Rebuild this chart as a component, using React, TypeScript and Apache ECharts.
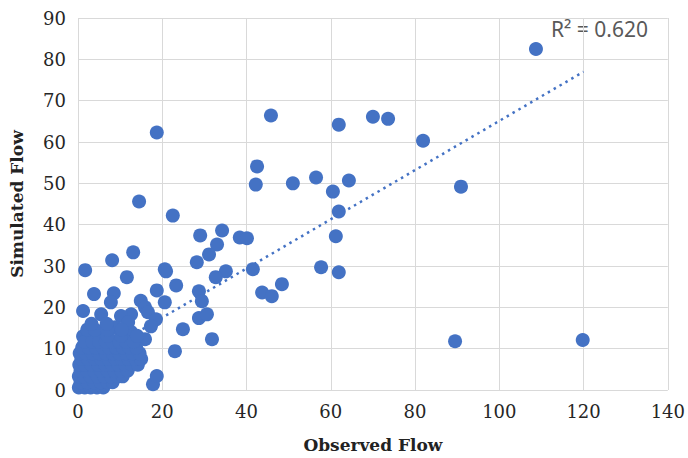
import React, { useEffect, useRef } from "react";
import * as echarts from "echarts";

// Observed (x) and simulated (y) flows
const scatteredObs = [108.7, 119.8, 89.5, 90.9, 81.9, 70.0, 73.6, 45.8, 61.9, 64.3, 60.5, 61.9, 61.2, 57.7, 61.9, 56.5, 51.0, 42.5, 42.2, 41.5, 43.7, 46.0, 48.4, 38.4, 40.1, 34.2, 33.0, 31.1, 29.0, 28.2, 35.1, 32.7, 28.7, 29.4, 28.7, 30.6, 31.8, 24.9, 23.0, 18.7, 14.5, 22.5, 13.1, 8.1, 1.7, 11.6, 3.8, 8.5, 20.9, 20.6, 18.7, 23.3, 20.6, 14.9, 15.9, 17.8, 18.7, 1.2];
const scatteredSim = [82.5, 12.1, 11.8, 49.2, 60.3, 66.1, 65.6, 66.4, 64.2, 50.7, 48.0, 43.2, 37.2, 29.7, 28.5, 51.4, 50.0, 54.1, 49.7, 29.2, 23.6, 22.7, 25.6, 36.9, 36.7, 38.6, 35.2, 32.8, 37.4, 30.9, 28.7, 27.3, 23.9, 21.5, 17.4, 18.3, 12.3, 14.7, 9.4, 62.3, 45.6, 42.2, 33.3, 31.4, 29.0, 27.3, 23.2, 23.4, 28.7, 29.2, 24.1, 25.3, 21.2, 21.6, 20.0, 1.4, 3.4, 19.1];

const clusterTopObs = [5.5, 7.8, 12.6, 10.2, 16.6, 18.5, 17.3, 15.9, 12.6, 1.2, 3.6, 5.5, 8.8, 11.9];
const clusterTopSim = [18.3, 21.2, 18.3, 17.9, 18.8, 17.1, 15.4, 12.3, 14.0, 13.0, 12.8, 14.0, 15.2, 16.4];

// dense cluster near the origin, one row of readings per band of simulated flow
const clusterRowsSim = [0.6, 1.9, 3.3, 4.7, 6.1, 7.5, 8.9, 10.3, 11.7, 13.1, 14.6, 16.0];
const clusterRowsObs = [
  [0.2, 1.6, 3.0, 4.5, 6.0],
  [0.6, 2.2, 3.8, 5.4, 7.0, 8.2],
  [0.2, 1.4, 3.0, 4.6, 6.2, 7.8, 9.4, 10.6],
  [0.6, 2.2, 3.8, 5.4, 7.0, 8.6, 10.2, 11.8],
  [0.3, 1.6, 3.2, 4.8, 6.4, 8.0, 9.6, 11.2, 12.8, 14.2],
  [0.8, 2.4, 4.0, 5.6, 7.2, 8.8, 10.4, 12.0, 13.6, 15.0],
  [0.4, 1.8, 3.4, 5.0, 6.6, 8.2, 9.8, 11.4, 13.0, 14.6],
  [1.0, 2.6, 4.2, 5.8, 7.4, 9.0, 10.6, 12.2, 13.8],
  [1.6, 3.4, 5.0, 6.6, 8.2, 9.8, 11.4, 13.2],
  [7.0, 10.2, 14.0],
  [2.2, 4.0, 7.0, 10.4],
  [3.2, 6.8],
];

// linear trendline end points
const trendObs = [0, 120];
const trendSim = [5.6, 77.0];

const xTicks = [0, 20, 40, 60, 80, 100, 120, 140];
const yTicks = [0, 10, 20, 30, 40, 50, 60, 70, 80, 90];
const r2Label = "R\u00B2 = 0.620";

export default function App() {
  const ref = useRef<HTMLDivElement>(null);
  useEffect(() => {
    if (!ref.current) return;
    const chart = echarts.init(ref.current, null, { renderer: "svg" });
    const points: number[][] = [];
    scatteredObs.forEach((x, i) => points.push([x, scatteredSim[i]]));
    clusterTopObs.forEach((x, i) => points.push([x, clusterTopSim[i]]));
    clusterRowsObs.forEach((row, r) => row.forEach((x) => points.push([x, clusterRowsSim[r]])));
    const trend = trendObs.map((x, i) => [x, trendSim[i]]);
    const axisFont = { fontFamily: "DejaVu Serif", fontSize: 18, color: "#262626" };
    chart.setOption({
      animation: false,
      backgroundColor: "#ffffff",
      grid: { left: 78, right: 20, top: 18, bottom: 67 },
      xAxis: {
        type: "value",
        min: xTicks[0],
        max: xTicks[xTicks.length - 1],
        interval: xTicks[1] - xTicks[0],
        name: "Observed Flow",
        nameLocation: "middle",
        nameGap: 46,
        nameTextStyle: { fontFamily: "DejaVu Serif", fontWeight: "bold", fontSize: 17, color: "#222222" },
        axisLine: { show: false },
        axisTick: { show: false },
        axisLabel: { ...axisFont, margin: 12 },
        splitLine: { show: true, lineStyle: { color: "#d9d9d9", width: 1 } },
      },
      yAxis: {
        type: "value",
        min: yTicks[0],
        max: yTicks[yTicks.length - 1],
        interval: yTicks[1] - yTicks[0],
        name: "Simulated Flow",
        nameLocation: "middle",
        nameGap: 53,
        nameTextStyle: { fontFamily: "DejaVu Serif", fontWeight: "bold", fontSize: 17, color: "#222222" },
        axisLine: { show: false },
        axisTick: { show: false },
        axisLabel: { ...axisFont, margin: 12 },
        splitLine: { show: true, lineStyle: { color: "#d9d9d9", width: 1 } },
      },
      series: [
        {
          type: "line",
          data: trend,
          symbol: "none",
          z: 1,
          lineStyle: { color: "#4472C4", width: 2.5, type: [2.5, 4.3] },
        },
        {
          type: "scatter",
          data: points,
          symbolSize: 14,
          z: 2,
          itemStyle: { color: "#4472C4", opacity: 1 },
        },
      ],
      graphic: [
        {
          type: "text",
          left: 551,
          top: 18,
          style: { text: r2Label, fontFamily: "Noto Sans", fontSize: 21, fill: "#595959" },
        },
      ],
    });
    return () => chart.dispose();
  }, []);
  return <div ref={ref} style={{ position: "fixed", left: 0, top: 0, width: 688, height: 458 }} />;
}
